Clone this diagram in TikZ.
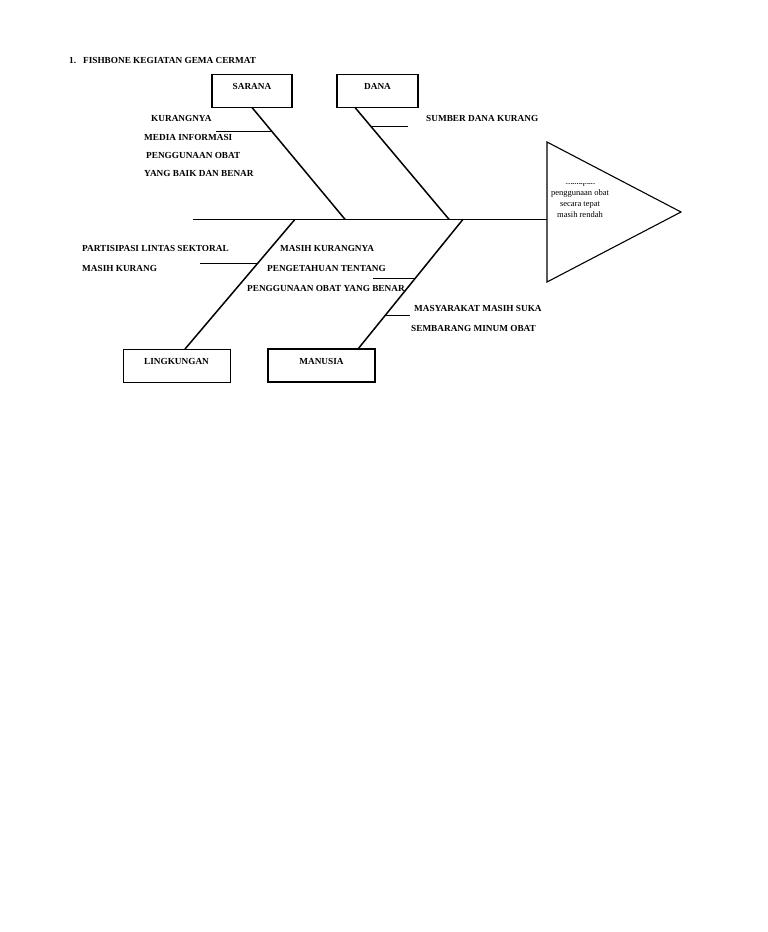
\documentclass[tikz,border=0pt]{standalone}
\usepackage{fontspec}
\setmainfont{Liberation Serif}
\usetikzlibrary{calc}
\tikzset{
  causebox/.style={draw, line width=1.3pt, minimum width=80pt, minimum height=33pt, inner sep=0pt},
  lbl/.style={font=\fontsize{9.25}{11}\selectfont\bfseries, inner sep=0pt, anchor=base west},
  boxlbl/.style={font=\fontsize{9.25}{11}\selectfont\bfseries, inner sep=0pt, anchor=base},
  bone/.style={line width=1.5pt},
  spine/.style={line width=0.9pt},
  tick/.style={line width=0.7pt},
  effect/.style={font=\fontsize{8.5}{11}\selectfont, inner sep=0pt, anchor=base},
}
\begin{document}
\begin{tikzpicture}[x=1pt,y=-1pt]
\useasboundingbox (0,0) rectangle (768,932);
% title
\node[lbl] (title) at (69,63) {1.\hspace{7pt}FISHBONE KEGIATAN GEMA CERMAT};
% cause boxes
\node[causebox] (sarana) at (252,91) {};
\node[causebox, minimum width=81pt] (dana) at (377.5,91) {};
\node[causebox, minimum width=107pt, line width=1pt] (ling) at (176.5,365.5) {};
\node[causebox, minimum width=107pt, line width=1.8pt] (manusia) at (321.5,365.5) {};
\node[boxlbl] at ([yshift=1.5pt]sarana.center) {SARANA};
\node[boxlbl] at ([yshift=1.5pt]dana.center) {DANA};
\node[boxlbl] at ([yshift=1.5pt]ling.center) {LINGKUNGAN};
\node[boxlbl] at ([yshift=1.5pt]manusia.center) {MANUSIA};
% effect triangle
\coordinate (tA) at (547,142);
\coordinate (tB) at (681,212);
\coordinate (tC) at (547,282);
\draw[line width=1.1pt] (tA) -- (tB) -- (tC) -- cycle;
\begin{scope}
\clip (540,183) rectangle (640,260);
\node[effect] (e0) at (580,184) {Cakupan};
\end{scope}
\node[effect] (e1) at (580,195) {penggunaan obat};
\node[effect] (e2) at (580,206) {secara tepat};
\node[effect] (e3) at (580,217) {masih rendah};
% spine
\coordinate (spL) at (193,219.3);
\coordinate (spR) at (547,219.3);
\draw[spine] (spL) -- (spR);
% bones
\coordinate (sarS) at (252,107.5);
\coordinate (sarE) at (345,219.3);
\coordinate (danS) at (355,107.5);
\coordinate (danE) at (449,219.3);
\coordinate (linS) at (185,349);
\coordinate (linE) at (295,219.3);
\coordinate (manS) at (358,349);
\coordinate (manE) at (463,219.3);
\draw[bone] (sarS) -- (sarE);
\draw[bone] (danS) -- (danE);
\draw[bone] (linS) -- (linE);
\draw[bone] (manS) -- (manE);
% ticks
\coordinate (k1) at ($(sarS)!0.214!(sarE)$);
\draw[tick] (k1) -- ++(-56,0);
\coordinate (k2) at ($(danS)!0.169!(danE)$);
\draw[tick] (k2) -- ++(37,0);
\coordinate (k3) at ($(linE)!0.338!(linS)$);
\draw[tick] (k3) -- ++(-58,0);
\coordinate (k4) at ($(manE)!0.4526!(manS)$);
\draw[tick] (k4) -- ++(-42,0);
\coordinate (k5) at ($(manE)!0.738!(manS)$);
\draw[tick] (k5) -- ++(24,0);
% labels
\node[lbl] (s1) at (151,121) {KURANGNYA};
\node[lbl] (s2) at (144,140) {MEDIA INFORMASI};
\node[lbl] (s3) at (146,158) {PENGGUNAAN OBAT};
\node[lbl] (s4) at (144,176) {YANG BAIK DAN BENAR};
\node[lbl] (d1) at (426,121) {SUMBER DANA KURANG};
\node[lbl] (l1) at (82,251) {PARTISIPASI LINTAS SEKTORAL};
\node[lbl] (l2) at (82,271) {MASIH KURANG};
\node[lbl] (m1) at (280,251) {MASIH KURANGNYA};
\node[lbl] (m2) at (267,271) {PENGETAHUAN TENTANG};
\node[lbl] (m3) at (247,291) {PENGGUNAAN OBAT YANG BENAR};
\node[lbl] (m4) at (414,311) {MASYARAKAT MASIH SUKA};
\node[lbl] (m5) at (411,331) {SEMBARANG MINUM OBAT};
\end{tikzpicture}
\end{document}
